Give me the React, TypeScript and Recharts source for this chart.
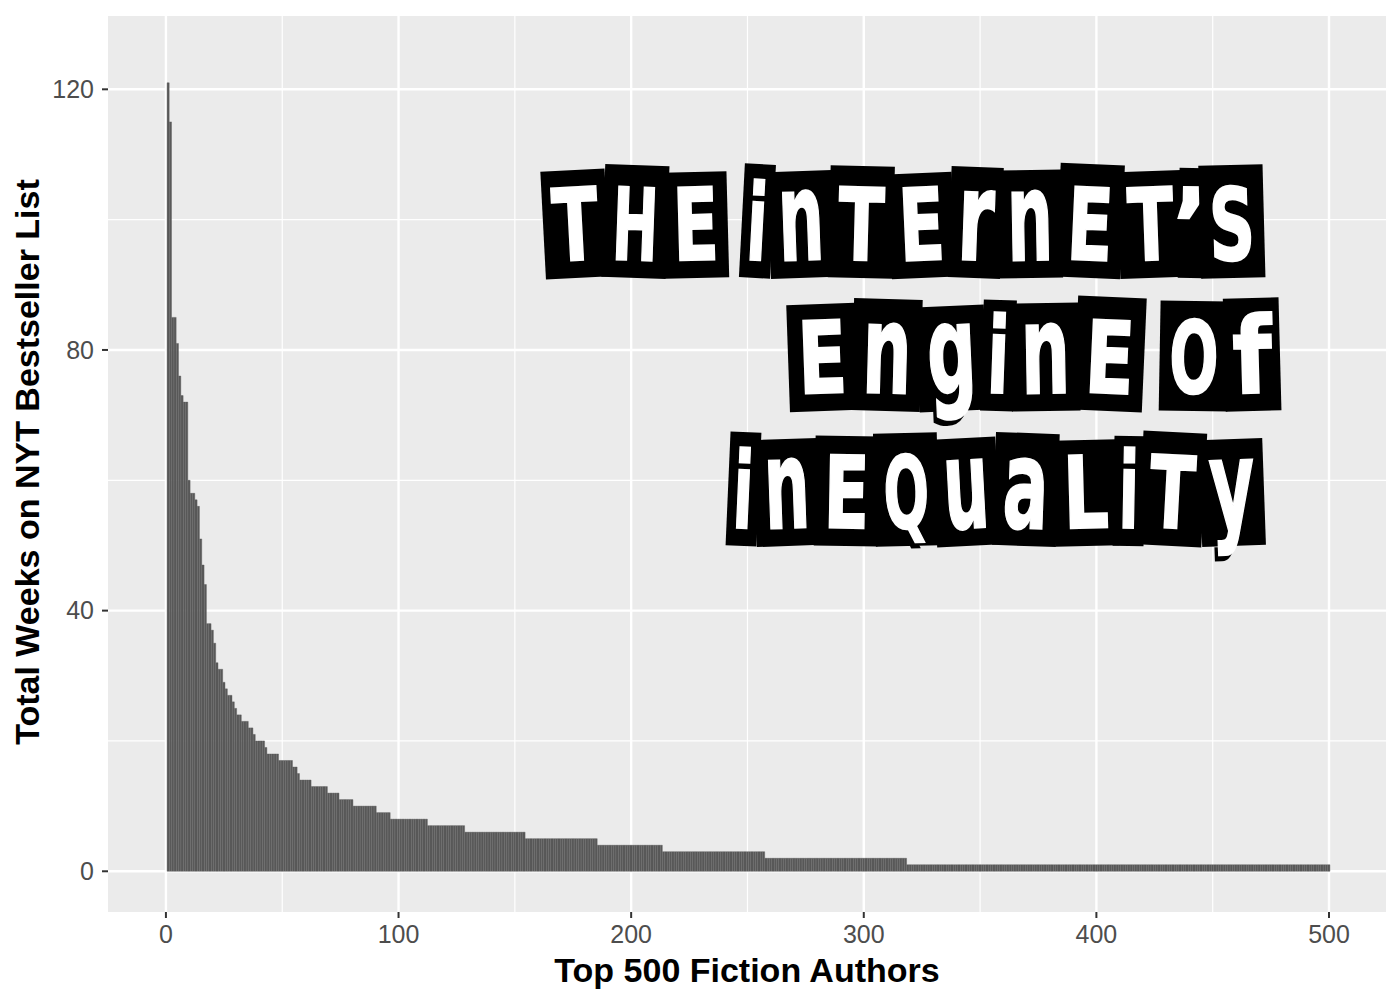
import React from 'react';
import { BarChart, Bar, XAxis, YAxis, CartesianGrid } from 'recharts';

// distinct week totals, from the top author down, and how many authors share each
const weekLevels = [121, 115, 85, 81, 76, 73, 72, 60, 58, 57, 56, 51, 47, 44, 38, 37, 35, 32, 31, 29, 28, 27, 26, 25, 24, 23, 22, 21, 20, 19, 18, 17, 16, 15, 14, 13, 12, 11, 10, 9, 8, 7, 6, 5, 4, 3, 2, 1];
const authorCounts = [1, 1, 2, 1, 1, 1, 2, 1, 2, 1, 1, 1, 1, 1, 2, 1, 1, 1, 2, 1, 1, 2, 1, 1, 2, 3, 2, 1, 4, 1, 5, 6, 2, 1, 5, 7, 5, 6, 10, 6, 16, 16, 26, 31, 28, 44, 61, 182];

const xTicks = [0, 100, 200, 300, 400, 500];
const xMinor = [50, 150, 250, 350, 450];
const yTicks = [0, 40, 80, 120];
const yMinor = [20, 60, 100];

const titleLines = ['THE inTErnET’S', 'EnginE Of', 'inEQuaLiTy'];

const data = weekLevels
  .flatMap((w, i) => Array.from({ length: authorCounts[i] }, () => w))
  .map((weeks, i) => ({ rank: i + 1, weeks }));

const FONT = '"Liberation Sans", Arial, Helvetica, sans-serif';
const TITLE_FONT = '"DejaVu Sans", "Liberation Sans", sans-serif';

const titleBoxes = [
  { left: 545, right: 1262, baseline: 262 },
  { left: 790, right: 1278, baseline: 395 },
  { left: 730, right: 1262, baseline: 530 },
];
const tilts = [-3, 2, -1.5, 1, 3, -2, 1.5, -2.5, 2, -1, 2.5, -2, 1, -1.5];
const jitter = [2, -3, 4, 0, -4, 3, -2, 5, -1, 2, -4, 3, 0, -3];

const letterWeight = (ch: string) => {
  if (ch === ' ') return 0.3;
  if (ch === 'i') return 0.45;
  if (ch === '’') return 0.35;
  if (ch === 'r' || ch === 'f') return 0.8;
  return 1;
};

const RansomTitle = () => {
  return (
    <svg width={1400} height={1000} style={{ position: 'absolute', left: 0, top: 0, pointerEvents: 'none' }}>
      {titleLines.map((line, li) => {
        const box = titleBoxes[li];
        const chars = Array.from(line);
        const total = chars.reduce((s, c) => s + letterWeight(c), 0);
        const unit = (box.right - box.left) / total;
        let cursor = box.left;
        return (
          <g key={li}>
            {chars.map((ch, ci) => {
              const w = letterWeight(ch) * unit;
              const x0 = cursor;
              cursor += w;
              if (ch === ' ') return null;
              const k = (li * 5 + ci) % tilts.length;
              const cx = x0 + w / 2;
              const lower = ch !== ch.toUpperCase();
              const size = ch === 'i' || ch === 'f' ? 106 : lower ? 124 : 100;
              const top = box.baseline - 94 + jitter[k];
              const len = ch === '’' ? undefined : w * 0.76;
              return (
                <g key={ci} transform={`rotate(${tilts[k]} ${cx} ${box.baseline - 40})`}>
                  <rect x={x0 - 2} y={top} width={w + 4} height={110 - jitter[k]} fill="#000" />
                  <text
                    x={cx - 4}
                    y={box.baseline + 4}
                    textAnchor="middle"
                    fill="#000"
                    fontFamily={TITLE_FONT}
                    fontWeight="bold"
                    fontSize={size}
                    textLength={len}
                    lengthAdjust="spacingAndGlyphs"
                  >
                    {ch}
                  </text>
                  <text
                    x={cx}
                    y={box.baseline - 2}
                    textAnchor="middle"
                    fill="#fff"
                    stroke="#fff"
                    strokeWidth={2}
                    fontFamily={TITLE_FONT}
                    fontWeight="bold"
                    fontSize={size}
                    textLength={len}
                    lengthAdjust="spacingAndGlyphs"
                  >
                    {ch}
                  </text>
                </g>
              );
            })}
          </g>
        );
      })}
    </svg>
  );
};

const XTitle = (props: any) => {
  const vb = props.viewBox || { x: 108, y: 912, width: 1278 };
  return (
    <text x={vb.x + vb.width / 2} y={vb.y + 70} textAnchor="middle" fontSize={34} fontWeight="bold" fill="#000" fontFamily={FONT}>
      Top 500 Fiction Authors
    </text>
  );
};

const YTitle = (props: any) => {
  const vb = props.viewBox || { x: 0, y: 16, width: 108, height: 896 };
  const cx = vb.x + 27;
  const cy = vb.y + vb.height / 2 - 2;
  return (
    <text
      x={cx}
      y={cy}
      transform={`rotate(-90 ${cx} ${cy})`}
      textAnchor="middle"
      dominantBaseline="central"
      fontSize={34}
      fontWeight="bold"
      fill="#000"
      fontFamily={FONT}
    >
      Total Weeks on NYT Bestseller List
    </text>
  );
};

export default function App() {
  return (
    <div style={{ position: 'absolute', left: 0, top: 0, width: 1400, height: 1000, background: '#fff' }}>
      <BarChart width={1400} height={1000} data={data} margin={{ top: 16, right: 14, left: 0, bottom: 0 }} barCategoryGap={0}>
        <CartesianGrid
          fill="#EBEBEB"
          stroke="#fff"
          strokeWidth={1.2}
          horizontalValues={yMinor}
          verticalValues={xMinor}
        />
        <CartesianGrid
          stroke="#fff"
          strokeWidth={2.4}
          horizontalValues={yTicks}
          verticalValues={xTicks}
        />
        <XAxis
          type="number"
          dataKey="rank"
          domain={[-24.9, 524.5]}
          allowDataOverflow
          ticks={xTicks}
          interval={0}
          height={88}
          axisLine={false}
          tickSize={6}
          tickMargin={7}
          tickLine={{ stroke: '#333', strokeWidth: 2 }}
          tick={{ fill: '#4D4D4D', fontSize: 25, fontFamily: FONT }}
          label={{ value: 'Top 500 Fiction Authors', content: XTitle }}
        />
        <YAxis
          type="number"
          domain={[-6.25, 131.25]}
          allowDataOverflow
          ticks={yTicks}
          interval={0}
          width={108}
          axisLine={false}
          tickSize={6}
          tickMargin={8}
          tickLine={{ stroke: '#333', strokeWidth: 2 }}
          tick={{ fill: '#4D4D4D', fontSize: 25, fontFamily: FONT }}
          label={{ value: 'Total Weeks on NYT Bestseller List', content: YTitle }}
        />
        <Bar dataKey="weeks" fill="#595959" stroke="#595959" strokeWidth={0.4} barSize={2.4} isAnimationActive={false} />
      </BarChart>
      <RansomTitle />
    </div>
  );
}
